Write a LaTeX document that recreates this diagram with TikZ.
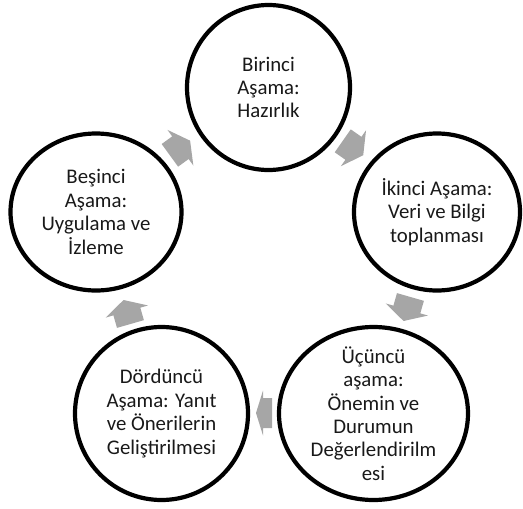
\documentclass[tikz,border=0pt]{standalone}
\usepackage{fontspec}
\setmainfont{Carlito}
\usetikzlibrary{shapes.geometric}
\definecolor{arrowgray}{HTML}{A6A6A6}
\tikzset{
  stage/.style={ellipse, draw=black, line width=4.2pt, inner sep=0pt, fill=white},
  stagetext/.style={align=center, inner sep=0pt, font=\fontsize{20.8}{23.4}\selectfont, text=black!90},
  cyclearrow/.pic={\fill[arrowgray] (-12.5,-14) -- (0.5,-14) -- (0.5,-22) -- (12.5,0) -- (0.5,22) -- (0.5,14) -- (-12.5,14) -- cycle;},
  shortarrow/.pic={\fill[arrowgray] (-8,-15) -- (1,-15) -- (1,-22.5) -- (8,0) -- (1,22.5) -- (1,15) -- (-8,15) -- cycle;}
}
\begin{document}
\begin{tikzpicture}[x=1pt,y=1pt]
\useasboundingbox (0,0) rectangle (523,-509);
\node (c1) [stage, minimum width=163pt, minimum height=165pt] at (268.5,-87.5) {};
\node (c2) [stage, minimum width=166pt, minimum height=157pt] at (437,-212) {};
\node (c3) [stage, minimum width=189pt, minimum height=173pt] at (373.5,-413.5) {};
\node (c4) [stage, minimum width=173pt, minimum height=173pt] at (161.5,-413.5) {};
\node (c5) [stage, minimum width=171pt, minimum height=157pt] at (96,-212) {};
\node (t1) [stagetext] at (c1) {Birinci\\Aşama:\\Hazırlık};
\node (t2) [stagetext] at (c2) {İkinci Aşama:\\Veri ve Bilgi\\toplanması};
\node (t3) [stagetext] at (c3) {Üçüncü\\aşama:\\Önemin ve\\Durumun\\Değerlendirilm\\esi};
\node (t4) [stagetext] at (c4) {Dördüncü\\Aşama: Yanıt\\ve Önerilerin\\Geliştirilmesi};
\node (t5) [stagetext] at (c5) {Beşinci\\Aşama:\\Uygulama ve\\İzleme};
\pic[rotate=-35] at (353,-148) {cyclearrow};
\pic[rotate=-106] at (407,-309) {cyclearrow};
\pic[rotate=180] at (264,-413) {shortarrow};
\pic[rotate=106] at (127,-312) {cyclearrow};
\pic[rotate=36] at (180,-148) {cyclearrow};
\end{tikzpicture}
\end{document}
